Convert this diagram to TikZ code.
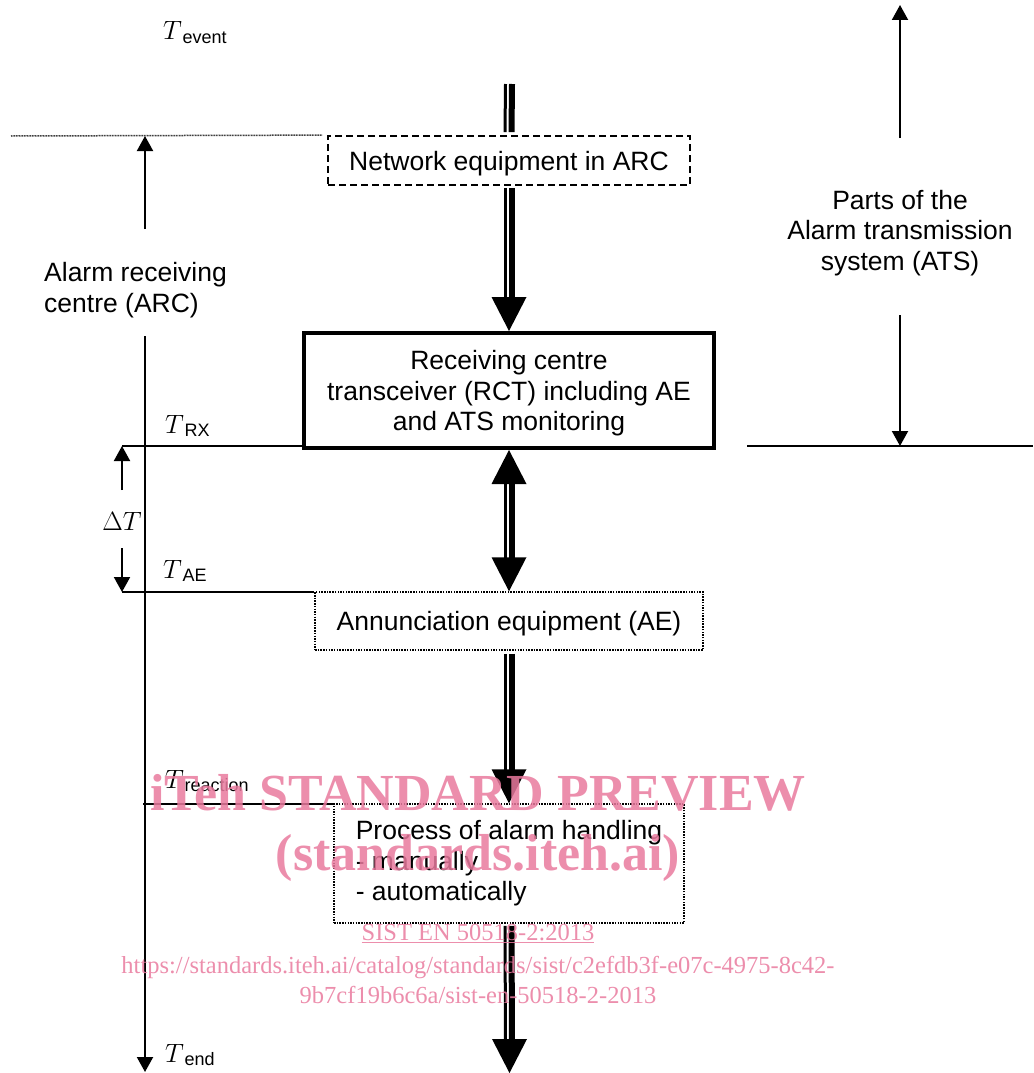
\RequirePackage{fix-cm}
\documentclass[tikz,border=0pt]{standalone}
\usepackage[no-math]{fontspec}
\setmainfont{Liberation Sans}
\newfontfamily\wmfont{Liberation Serif}
\usetikzlibrary{arrows.meta,calc}
\definecolor{wm}{RGB}{233,122,158}
\newcommand\mainsz{\fontsize{26.5}{30.5}\selectfont}
\newcommand\tlab[1]{$T$\kern0.5pt\raisebox{-3.5pt}{\fontsize{18}{18}\selectfont #1}}
\newcommand\dshaft[2]{%
  \draw[line width=3pt] ([xshift=-4pt]#1) -- ([xshift=-4pt]#2);
  \draw[line width=6pt] ([xshift=2.5pt]#1) -- ([xshift=2.5pt]#2);}
\newcommand\headdn[1]{\fill (#1) -- ++(-17.5,-34) -- ++(35,0) -- cycle;}
\newcommand\headup[1]{\fill (#1) -- ++(-17.5,34) -- ++(35,0) -- cycle;}
\begin{document}
\begin{tikzpicture}[x=1pt,y=-1pt,
  every node/.style={font=\mainsz, inner sep=0pt},
  txt/.style={yshift=-3pt},
  thinl/.style={line width=2pt},
  tarrow/.style={line width=2pt,-{Triangle[width=16pt,length=15pt]}},
  dashbox/.style={draw, line width=1.8pt, dash pattern=on 7pt off 4pt},
  dotbox/.style={draw, line width=1.5pt, dash pattern=on 1.5pt off 1.2pt},
  solidbox/.style={draw, line width=4pt},
  dotl/.style={line width=1.5pt, black!75, dash pattern=on 1pt off 0.6pt},
  wmk/.style={text=wm, text opacity=0.85, anchor=base}]
\useasboundingbox (0,0) rectangle (1033,1073);

% boxes
\node[dashbox, minimum width=362pt, minimum height=49pt] (net) at (509,160.5) {};
\node[txt] (nett) at (net.center) {Network equipment in ARC};
\node[solidbox, minimum width=410pt, minimum height=115pt] (rct) at (509,390.5) {};
\node[txt, align=center] (rctt) at (rct.center)
  {Receiving centre\\transceiver (RCT) including AE\\and ATS monitoring};
\node[dotbox, minimum width=388pt, minimum height=58pt] (ae) at (509,621) {};
\node[txt] (aet) at (ae.center) {Annunciation equipment (AE)};
\node[dotbox, minimum width=350pt, minimum height=119pt] (proc) at (509,863.5) {};
\node[align=left] (proct) at (proc.center)
  {Process of alarm handling\\- manually\\- automatically};

% main flow
\coordinate (top) at (509.5,84);
\coordinate (bot) at (509.5,1073);
\coordinate (s1) at ([yshift=3pt]net.north);
\dshaft{top}{s1}
\coordinate (s2a) at ([yshift=-2pt]net.south);
\coordinate (s2b) at ([yshift=30pt]rct.north);
\dshaft{s2a}{s2b}
\headdn{rct.north}
\coordinate (s3a) at ([yshift=-30pt]rct.south);
\coordinate (s3b) at ([yshift=30pt]ae.north);
\dshaft{s3a}{s3b}
\headup{rct.south}
\headdn{ae.north}
\coordinate (s4a) at ([yshift=-3pt]ae.south);
\coordinate (s4b) at ([yshift=30pt]proc.north);
\dshaft{s4a}{s4b}
\headdn{proc.north}
\coordinate (s5a) at ([yshift=-2pt]proc.south);
\coordinate (s5b) at ([yshift=30pt]bot);
\dshaft{s5a}{s5b}
\headdn{bot}

% top-left
\coordinate (dl0) at (11,136);
\draw[dotl] (dl0) -- ([xshift=-5pt]net.north west);
\coordinate (arcup) at (145,229);
\draw[tarrow] (arcup) -- (arcup |- dl0);
\node[anchor=west, align=left, txt] (arc) at (44,287) {Alarm receiving\\centre (ARC)};
\coordinate (L0) at (145,336);
\coordinate (L1) at (145,1072);
\draw[tarrow] (L0) -- (L1);

% time lines
\coordinate (trx) at (122,446);
\draw[thinl] (trx) -- (trx -| rct.west);
\coordinate (tae) at (122,592);
\draw[thinl] (tae) -- (tae -| ae.west);
\coordinate (tre) at (143,804);
\draw[thinl] (tre) -- (tre -| proc.west);
\coordinate (dTa) at (122,490);
\coordinate (dTb) at (122,548);
\draw[tarrow] (dTa) -- (trx);
\draw[tarrow] (dTb) -- (tae);
\node[txt] (dT) at (122,518) {$\Delta T$};

% labels
\node[anchor=base west] (tev) at (163,40) {\tlab{event}};
\node[anchor=base west] (trxl) at (165,433) {\tlab{RX}};
\node[anchor=base west] (tael) at (163,578) {\tlab{AE}};
\node[anchor=base west] (trel) at (165,788) {\tlab{reaction}};
\node[anchor=base west] (tend) at (165,1062) {\tlab{end}};

% right side
\coordinate (r0) at (747,446);
\coordinate (r1) at (1033,446);
\draw[thinl] (r0) -- (r1);
\coordinate (au0) at (900,138);
\coordinate (au1) at (900,5);
\draw[tarrow] (au0) -- (au1);
\coordinate (ad0) at (900,315);
\draw[tarrow] (ad0) -- (ad0 |- r0);
\node[align=center, txt] (ats) at (900,230) {Parts of the\\Alarm transmission\\system (ATS)};

% watermark
\node[wmk, font=\wmfont\bfseries\fontsize{52}{52}\selectfont] (w1) at (478,810) {iTeh STANDARD PREVIEW};
\node[wmk, font=\wmfont\bfseries\fontsize{52}{52}\selectfont] (w2) at (478,870) {(standards.iteh.ai)};
\node[wmk, font=\wmfont\fontsize{24.5}{24.5}\selectfont] (w3) at (478,940) {\underline{SIST EN 50518-2:2013}};
\node[wmk, font=\wmfont\fontsize{24.5}{24.5}\selectfont] (w4) at (478,973) {https://standards.iteh.ai/catalog/standards/sist/c2efdb3f-e07c-4975-8c42-};
\node[wmk, font=\wmfont\fontsize{24.5}{24.5}\selectfont] (w5) at (478,1003) {9b7cf19b6c6a/sist-en-50518-2-2013};
\end{tikzpicture}
\end{document}
